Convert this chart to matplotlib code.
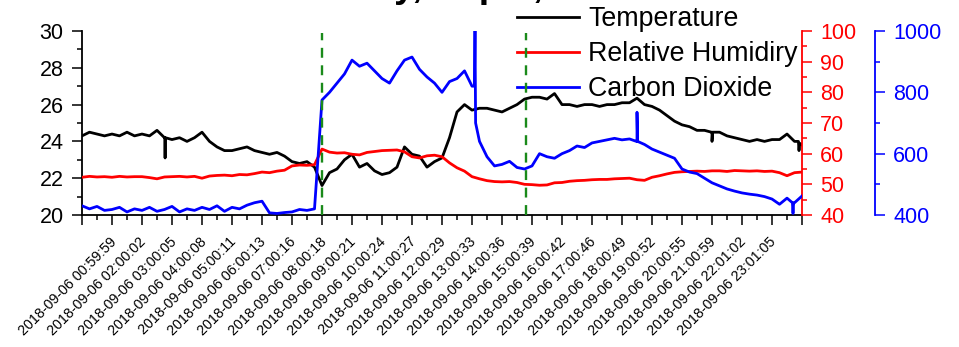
import matplotlib
matplotlib.use("Agg")
import matplotlib.pyplot as plt
import matplotlib.transforms as mtransforms
import numpy as np
from matplotlib.ticker import MultipleLocator

plt.rcParams["font.family"] = ["Liberation Sans", "DejaVu Sans"]

# time axis: hours since midnight, one reading every 15 minutes
hours = np.arange(0, 24.25, 0.25)

temperature = [
    24.3, 24.5, 24.4, 24.3, 24.4, 24.3, 24.5, 24.3, 24.4, 24.3, 24.6, 24.2,
    24.1, 24.2, 24.0, 24.2, 24.5, 24.0, 23.7, 23.5, 23.5, 23.6, 23.7, 23.5,
    23.4, 23.3, 23.4, 23.2, 22.9, 22.8, 22.9, 22.6, 21.6, 22.3, 22.5, 23.0,
    23.3, 22.6, 22.8, 22.4, 22.2, 22.3, 22.6, 23.7, 23.3, 23.2, 22.6, 22.9,
    23.1, 24.2, 25.6, 26.0, 25.7, 25.8, 25.8, 25.7, 25.6, 25.8, 26.0, 26.3,
    26.4, 26.4, 26.3, 26.6, 26.0, 26.0, 25.9, 26.0, 26.0, 25.9, 26.0, 26.0,
    26.1, 26.1, 26.35, 26.0, 25.9, 25.7, 25.4, 25.1, 24.9, 24.8, 24.6, 24.6,
    24.5, 24.5, 24.3, 24.2, 24.1, 24.0, 24.1, 24.0, 24.1, 24.1, 24.4, 24.0,
    23.8,
]
humidity = [
    52.3, 52.6, 52.4, 52.5, 52.3, 52.6, 52.4, 52.5, 52.5, 52.2, 51.8, 52.4,
    52.5, 52.6, 52.4, 52.6, 52.0, 52.7, 52.9, 53.0, 52.8, 53.2, 53.1, 53.5,
    54.0, 53.8, 54.3, 54.6, 56.0, 56.3, 56.2, 56.4, 61.5, 60.5, 60.2, 60.3,
    59.8, 59.6, 60.4, 60.7, 61.0, 61.1, 61.2, 60.6, 59.0, 58.6, 59.3, 59.5,
    59.0, 57.0, 55.4, 54.3, 52.5, 51.8, 51.2, 50.9, 50.8, 50.9, 50.6, 50.0,
    49.9, 49.7, 49.8, 50.5, 50.6, 51.0, 51.2, 51.3, 51.5, 51.6, 51.6, 51.8,
    51.9, 52.0, 51.5, 51.3, 52.3, 52.8, 53.4, 53.9, 54.1, 54.2, 54.3, 54.2,
    54.4, 54.4, 54.2, 54.5, 54.4, 54.3, 54.4, 54.2, 54.3, 53.8, 52.8, 53.8,
    54.0,
]
co2 = [
    430, 420, 428, 415, 418, 425, 410, 420, 415, 425, 412, 418,
    428, 410, 420, 415, 425, 418, 430, 412, 425, 420, 432, 440,
    445, 407, 405, 408, 410, 418, 415, 420, 775, 800, 830, 860,
    905, 885, 895, 870, 845, 830, 870, 905, 915, 875, 850, 830,
    800, 835, 845, 870, 820, 640, 590, 560, 565, 575, 555, 550,
    560, 600, 590, 585, 600, 610, 625, 620, 635, 640, 645, 650,
    645, 648, 640, 630, 615, 605, 595, 585, 550, 540, 535, 520,
    505, 495, 485, 478, 472, 468, 465, 460, 452, 435, 455, 440,
    462,
]

# short single-reading spikes
temp_spike_hours = [2.76, 2.77, 2.78, 20.98, 21.0, 21.02, 23.88, 23.9, 23.92]
temp_spike_values = [24.2, 23.1, 24.2, 24.5, 24.0, 24.5, 24.0, 23.5, 23.9]
co2_spike_hours = [13.08, 13.1, 13.12, 18.48, 18.5, 18.52, 23.68, 23.7, 23.72]
co2_spike_values = [820, 1000, 700, 640, 735, 640, 440, 405, 440]

event_hours = [8.0, 14.8]

tick_hours = list(range(0, 25))
tick_labels = [
    "", "2018-09-06 00:59:59", "2018-09-06 02:00:02", "2018-09-06 03:00:05",
    "2018-09-06 04:00:08", "2018-09-06 05:00:11", "2018-09-06 06:00:13",
    "2018-09-06 07:00:16", "2018-09-06 08:00:18", "2018-09-06 09:00:21",
    "2018-09-06 10:00:24", "2018-09-06 11:00:27", "2018-09-06 12:00:29",
    "2018-09-06 13:00:33", "2018-09-06 14:00:36", "2018-09-06 15:00:39",
    "2018-09-06 16:00:42", "2018-09-06 17:00:46", "2018-09-06 18:00:49",
    "2018-09-06 19:00:52", "2018-09-06 20:00:55", "2018-09-06 21:00:59",
    "2018-09-06 22:01:02", "2018-09-06 23:01:05", "",
]


def with_spikes(h, v, sh, sv):
    hh = np.concatenate([h, sh])
    vv = np.concatenate([v, sv])
    order = np.argsort(hh, kind="stable")
    return hh[order], vv[order]


RED = "#ff0000"
BLUE = "#0000ff"
GREEN = "#1a8a1a"
LW = 2.0
TICK = dict(direction="out", length=7.2, width=1.1, labelsize=15.5, pad=6)
MINOR = dict(direction="out", length=3.6, width=1.1)

fig = plt.figure(figsize=(9.59, 3.47), dpi=100)
ax = fig.add_axes([0.0855, 0.3804, 0.7508, 0.5303])
ax2 = ax.twinx()
ax3 = ax.twinx()
ax3.spines["right"].set_position(("axes", 1.101))

th, tv = with_spikes(hours, temperature, temp_spike_hours, temp_spike_values)
ch, cv = with_spikes(hours, co2, co2_spike_hours, co2_spike_values)
l1, = ax.plot(th, tv, color="black", lw=LW, label="Temperature")
l2, = ax2.plot(hours, humidity, color=RED, lw=LW, label="Relative Humidiry")
l3, = ax3.plot(ch, cv, color=BLUE, lw=LW, label="Carbon Dioxide")

for h in event_hours:
    ax3.axvline(h, ymin=0, ymax=0.99, color=GREEN, lw=1.7,
                dashes=(4.2, 3.2), zorder=6)

ax.set_xlim(0, 24)
ax.set_ylim(20, 30)
ax2.set_ylim(40, 100)
ax3.set_ylim(400, 1000)

for a in (ax, ax2, ax3):
    a.spines["top"].set_visible(False)
ax.spines["right"].set_visible(False)
ax2.spines["left"].set_visible(False)
ax3.spines["left"].set_visible(False)
ax2.spines["bottom"].set_visible(False)
ax3.spines["bottom"].set_visible(False)
for s in ("left", "bottom"):
    ax.spines[s].set_linewidth(1.3)
ax2.spines["right"].set_color(RED)
ax2.spines["right"].set_linewidth(1.3)
ax3.spines["right"].set_color(BLUE)
ax3.spines["right"].set_linewidth(1.3)

ax.set_yticks([20, 22, 24, 26, 28, 30])
ax.yaxis.set_minor_locator(MultipleLocator(1))
ax.tick_params(axis="y", which="major", **TICK)
ax.tick_params(axis="y", which="minor", **MINOR)

ax2.set_yticks([40, 50, 60, 70, 80, 90, 100])
ax2.yaxis.set_minor_locator(MultipleLocator(5))
ax2.tick_params(axis="y", which="major", colors=RED, **TICK)
ax2.tick_params(axis="y", which="minor", colors=RED, **MINOR)

ax3.set_yticks([400, 600, 800, 1000])
ax3.yaxis.set_minor_locator(MultipleLocator(100))
ax3.tick_params(axis="y", which="major", colors=BLUE, **TICK)
ax3.tick_params(axis="y", which="minor", colors=BLUE, **MINOR)

ax.set_xticks(tick_hours)
ax.set_xticklabels(tick_labels, rotation=45, ha="right", fontsize=10.3)
ax.xaxis.set_minor_locator(MultipleLocator(0.5))
ax.tick_params(axis="x", which="major", direction="out", length=7.2,
               width=1.1, pad=7)
ax.tick_params(axis="x", which="minor", **MINOR)
shift = mtransforms.ScaledTranslation(7 / 100, 0, fig.dpi_scale_trans)
for lab in ax.get_xticklabels():
    lab.set_transform(lab.get_transform() + shift)

ax3.legend(handles=[l1, l2, l3], loc="upper left",
           bbox_to_anchor=(517 / 959, 1 - 6 / 347),
           bbox_transform=fig.transFigure, frameon=False, fontsize=19.3,
           handlelength=2.3, handletextpad=0.35, labelspacing=0.34,
           borderpad=0, borderaxespad=0)

fig.text(442 / 959, 1 + 3 / 347, "Thursday, Sep 6, 2018", ha="center",
         va="baseline", fontsize=27, fontweight="bold")

fig.savefig("out.png", dpi=100)
